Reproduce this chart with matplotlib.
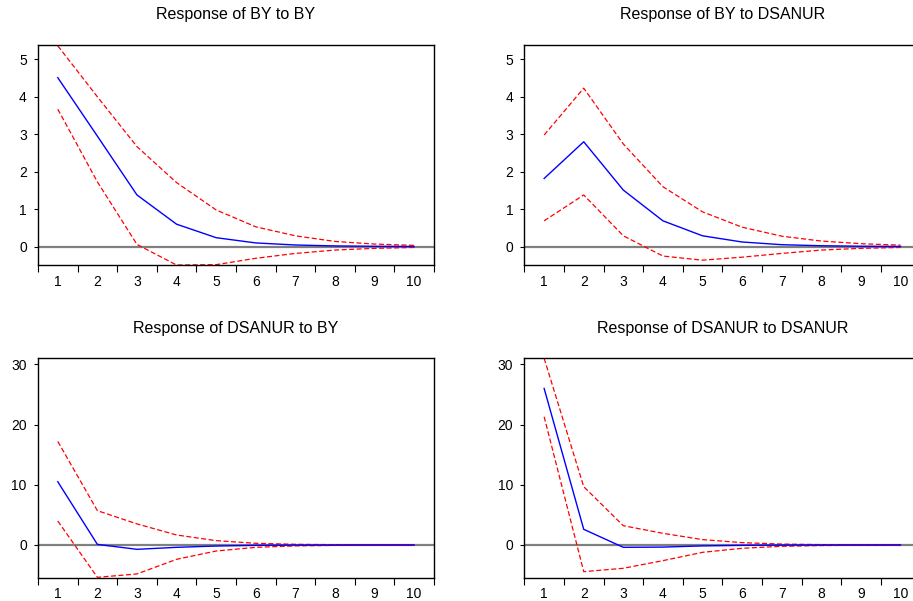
import numpy as np
import matplotlib
matplotlib.use("Agg")
import matplotlib.pyplot as plt
from matplotlib.ticker import FixedLocator, FixedFormatter, NullFormatter

plt.rcParams['font.family'] = ['Liberation Sans', 'DejaVu Sans']

periods = np.arange(1, 11)

# Response of BY to BY
by_by = [4.51, 2.95, 1.38, 0.60, 0.24, 0.10, 0.045, 0.02, 0.01, 0.005]
by_by_hi = [5.36, 4.00, 2.67, 1.71, 0.98, 0.53, 0.29, 0.14, 0.07, 0.035]
by_by_lo = [3.67, 1.73, 0.06, -0.49, -0.48, -0.31, -0.18, -0.09, -0.045, -0.02]

# Response of BY to DSANUR
by_ds = [1.82, 2.80, 1.51, 0.69, 0.29, 0.125, 0.053, 0.025, 0.012, 0.006]
by_ds_hi = [2.98, 4.23, 2.74, 1.60, 0.93, 0.52, 0.28, 0.15, 0.08, 0.04]
by_ds_lo = [0.69, 1.38, 0.29, -0.25, -0.36, -0.28, -0.18, -0.09, -0.045, -0.02]

# Response of DSANUR to BY
ds_by = [10.5, 0.1, -0.72, -0.39, -0.17, -0.06, -0.02, -0.01, 0.0, 0.0]
ds_by_hi = [17.2, 5.7, 3.5, 1.66, 0.72, 0.28, 0.11, 0.05, 0.02, 0.01]
ds_by_lo = [3.98, -5.37, -4.81, -2.38, -1.0, -0.39, -0.15, -0.06, -0.03, -0.01]

# Response of DSANUR to DSANUR
ds_ds = [26.0, 2.6, -0.39, -0.35, -0.15, -0.06, -0.02, -0.01, 0.0, 0.0]
ds_ds_hi = [31.0, 9.68, 3.2, 1.94, 0.89, 0.39, 0.15, 0.06, 0.02, 0.01]
ds_ds_lo = [21.3, -4.43, -3.87, -2.6, -1.22, -0.55, -0.22, -0.09, -0.03, -0.01]

titles = ["Response of BY to BY", "Response of BY to DSANUR",
          "Response of DSANUR to BY", "Response of DSANUR to DSANUR"]
yticks_top = [0, 1, 2, 3, 4, 5]
yticks_bottom = [0, 10, 20, 30]

panels = [
    (titles[0], by_by, by_by_hi, by_by_lo, [0.0416, 0.559, 0.4337, 0.366], (-0.49, 5.38), yticks_top),
    (titles[1], by_ds, by_ds_hi, by_ds_lo, [0.5743, 0.559, 0.4337, 0.366], (-0.49, 5.38), yticks_top),
    (titles[2], ds_by, ds_by_hi, ds_by_lo, [0.0416, 0.0388, 0.4337, 0.365], (-5.43, 31.0), yticks_bottom),
    (titles[3], ds_ds, ds_ds_hi, ds_ds_lo, [0.5743, 0.0388, 0.4337, 0.365], (-5.43, 31.0), yticks_bottom),
]

fig = plt.figure(figsize=(9.13, 6.01), dpi=100)

for title, mid, hi, lo, pos, ylim, yt in panels:
    ax = fig.add_axes(pos)
    ax.axhline(0, color='#808080', lw=1.6, zorder=1)
    ax.plot(periods, hi, color='red', lw=0.9, ls=(0, (4, 2)), zorder=2)
    ax.plot(periods, lo, color='red', lw=0.9, ls=(0, (4, 2)), zorder=2)
    ax.plot(periods, mid, color='blue', lw=1.0, zorder=3)
    ax.set_xlim(0.5, 10.5)
    ax.set_ylim(*ylim)
    ax.set_yticks(yt)
    ax.tick_params(axis='y', direction='out', length=3, width=0.8, pad=5, labelsize=10)
    # tick marks between periods, labels at periods
    ax.xaxis.set_major_locator(FixedLocator(np.arange(0.5, 11, 1)))
    ax.xaxis.set_major_formatter(NullFormatter())
    ax.xaxis.set_minor_locator(FixedLocator(periods))
    ax.xaxis.set_minor_formatter(FixedFormatter([str(p) for p in periods]))
    ax.tick_params(axis='x', which='major', direction='out', length=5, width=0.8)
    ax.tick_params(axis='x', which='minor', length=0, pad=7, labelsize=10)
    for s in ax.spines.values():
        s.set_linewidth(1.0)
    ax.set_title(title, fontsize=11.5, pad=18.5)

fig.savefig("out.png", dpi=100)
